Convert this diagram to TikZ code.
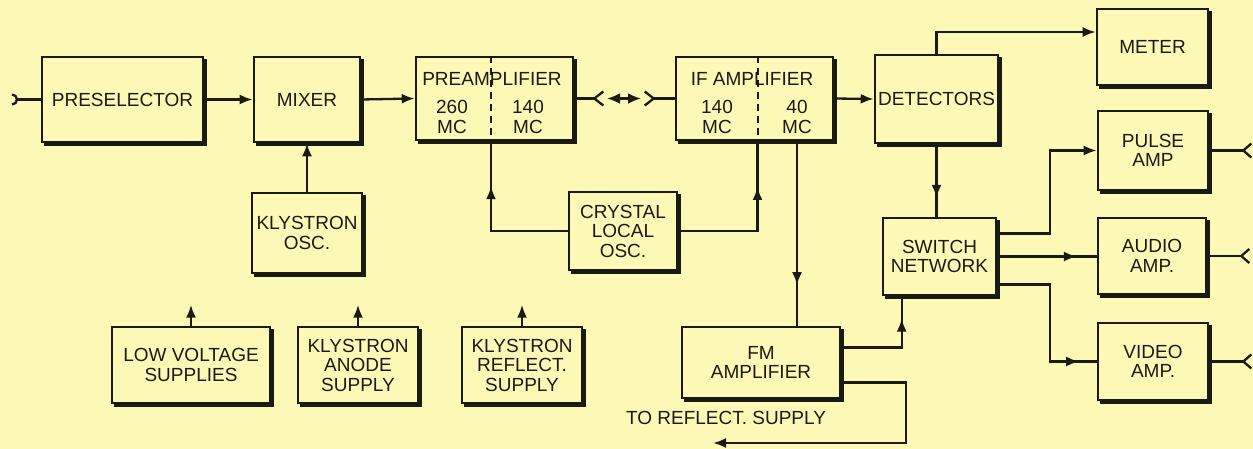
\documentclass[tikz,border=0pt]{standalone}
\usepackage{fontspec}
\setmainfont{Liberation Sans}
\usetikzlibrary{arrows.meta,decorations.markings}
\definecolor{paper}{RGB}{252,249,183}
\definecolor{ink}{RGB}{28,26,20}
\newcommand{\lettering}{\fontsize{19}{19.5}\selectfont}

\begin{document}
\begin{tikzpicture}[x=1pt,y=-1pt,color=ink,line width=2.3pt,>={Latex[length=13pt,width=10pt]},
    marr/.style={postaction={decorate},decoration={markings,mark=at position #1 with {\arrow{>}}}}]
  \tikzstyle{block}=[draw=ink,line width=2.6pt,fill=paper,align=center,font=\lettering,inner sep=2pt,
    preaction={draw=ink,fill=ink,transform canvas={shift={(3pt,-3pt)}}}]
  \tikzstyle{txt}=[align=center,font=\lettering,inner sep=0pt]
  \tikzstyle{divider}=[line width=2pt,dash pattern=on 7pt off 5pt]

  \path[use as bounding box,fill=paper] (0,0) rectangle (1253,449);

  \foreach \name/\x/\y/\w/\h/\text in {
      pre/122.5/99.5/161/85/PRESELECTOR, mix/307/99.5/106/85/MIXER,
      det/936.5/99/123/88/DETECTORS, meter/1152.5/47/111/76/METER,
      pulse/1153/150.5/110/79/{PULSE\\AMP}, switch/939.5/256.5/113/77/{SWITCH\\NETWORK},
      audio/1152/256/108/76/{AUDIO\\AMP.}, video/1153/361.5/110/77/{VIDEO\\AMP.},
      fm/761/362.5/158/71/{FM\\AMPLIFIER}, xtal/623/231/108/78/{CRYSTAL\\LOCAL\\OSC.},
      kosc/307/233/110/80/{KLYSTRON\\OSC.}}
    \node[block,minimum width=\w,minimum height=\h] (\name) at (\x,\y) {\text};

  % supplies, each with a short arrow going up
  \foreach \name/\x/\w/\text in {lv/191/158/{LOW VOLTAGE\\SUPPLIES},
      kanode/358/120/{KLYSTRON\\ANODE\\SUPPLY}, krefl/522/120/{KLYSTRON\\REFLECT.\\SUPPLY}}
  {
    \node[block,minimum width=\w,minimum height=76] (\name) at (\x,365) {\text};
    \draw[->] (\name.north) -- ++(0,-21);
  }

  % the two split amplifiers
  \node[block,minimum width=157,minimum height=83] (preamp) at (494.5,98.5) {};
  \node[txt] (preamp-t) at (492,79) {PREAMPLIFIER};
  \node[txt] (preamp-a) at (452,117) {260\\MC};
  \node[txt] (preamp-b) at (528,117) {140\\MC};
  \coordinate (pdiv) at (491,98.5);
  \draw[divider] (preamp.north -| pdiv) -- (preamp.south -| pdiv);

  \node[block,minimum width=157,minimum height=83] (ifamp) at (754.5,98.5) {};
  \node[txt] (ifamp-t) at (752,79) {IF AMPLIFIER};
  \node[txt] (ifamp-a) at (717,117) {140\\MC};
  \node[txt] (ifamp-b) at (797,117) {40\\MC};
  \coordinate (idiv) at (757.5,98.5);
  \draw[divider] (ifamp.north -| idiv) -- (ifamp.south -| idiv);

  % input
  \coordinate (ant) at (17,99.5);
  \draw (pre.west) -- (ant);
  \draw (ant) arc[start angle=0,end angle=90,radius=5] (ant) arc[start angle=0,end angle=-90,radius=5];

  \draw[->] (pre.east) -- (mix.west);
  \draw[->] (mix.east) -- (preamp.west);
  \draw[->] (kosc.north) -- (mix.south);

  % plug between the amplifiers
  \draw (preamp.east) -- ++(20,0) coordinate (c-l);
  \draw (c-l) ++(9,-7) -- (c-l) -- ++(9,7);
  \draw (ifamp.west) -- ++(-21,0) coordinate (c-r);
  \draw (c-r) ++(-9,-7) -- (c-r) -- ++(-9,7);
  \coordinate (c-a) at (607,98.5);
  \coordinate (c-b) at (641,98.5);
  \draw[{Latex[length=13pt,width=11pt]}-{Latex[length=13pt,width=11pt]}] (c-a) -- (c-b);

  \draw[marr=0.73] (xtal.west) -| (preamp.south -| pdiv);
  \draw[marr=0.73] (xtal.east) -| (ifamp.south -| idiv);
  \draw[marr=0.78] (ifamp.south -| ifamp-b) -- (fm.north -| ifamp-b);

  \draw[->] (ifamp.east) -- (det.west);
  \draw[->] (det.north) |- ([yshift=15pt]meter.west);
  \draw[marr=0.74] (det.south) -- (det.south |- switch.north);

  \draw[->] ([yshift=23pt]switch.east) -- ++(53,0) |- (pulse.west);
  \draw[marr=0.8] (switch.east) -- (switch.east -| audio.west);
  \draw[marr=0.9] ([yshift=-28pt]switch.east) -- ++(53,0) |- (video.west);

  \draw[marr=0.8] ([yshift=15pt]fm.east) -| ([xshift=20pt]switch.south west);
  \coordinate (refl) at (713,443);
  \draw[->] ([yshift=-20pt]fm.east) -- ++(65,0) |- (refl);
  \node[txt] (refl-t) at (726,418) {TO REFLECT. SUPPLY};

  % outputs
  \foreach \name in {pulse,audio,video}
  {
    \draw (\name.east) -- ++(34,0) coordinate (\name-o);
    \draw (\name-o) ++(8,-7) -- (\name-o) -- ++(8,7);
  }
\end{tikzpicture}
\end{document}
